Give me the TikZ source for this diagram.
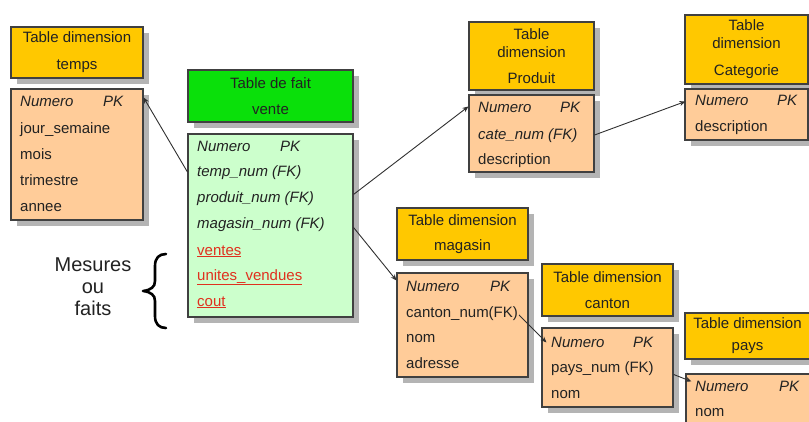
\documentclass[tikz,border=0pt]{standalone}
\usepackage{fontspec}
\setmainfont{Liberation Sans}
\usetikzlibrary{shadows,arrows.meta,calc}

\definecolor{hdrgold}{HTML}{FFC800}
\definecolor{peach}{HTML}{FFCC99}
\definecolor{factgreen}{HTML}{0AE00A}
\definecolor{factpale}{HTML}{CCFFCC}
\definecolor{edgegray}{HTML}{404040}
\definecolor{shadowgray}{HTML}{B4B4B4}
\definecolor{inkcol}{HTML}{222222}
\definecolor{measred}{HTML}{E0301E}
\definecolor{linkgray}{HTML}{303030}

\newcommand\cellfont{\fontsize{15}{27}\selectfont}
\newcommand\tightfont{\fontsize{15}{18}\selectfont}

\begin{document}
\begin{tikzpicture}[x=1pt,y=-1pt,
  box/.style={draw=edgegray, line width=1.1pt, rectangle, inner sep=0pt,
    drop shadow={shadow xshift=6pt, shadow yshift=-6pt, fill=shadowgray, opacity=1}},
  hdr/.style={box, fill=hdrgold, align=center, font=\cellfont, text=inkcol},
  facthdr/.style={hdr, fill=factgreen},
  dimbody/.style={box, fill=peach},
  factbody/.style={box, fill=factpale},
  row/.style={anchor=west, inner sep=0pt, text height=11pt, text depth=3pt,
    font=\cellfont, text=inkcol},
  key/.style={row, font=\cellfont\itshape},
  measure/.style={row, text=measred},
  link/.style={draw=linkgray, line width=0.9pt, -{Stealth[length=6pt,width=5pt]}},
  bracestroke/.style={draw=black, line width=2.6pt, line join=round, line cap=round}
]
\useasboundingbox (0,0) rectangle (809,421);

% ---- dimension temps
\node[hdr, minimum width=132pt, minimum height=51pt] (tHdr) at (77,52.5)
  {Table dimension\\temps};
\node[dimbody, minimum width=132pt, minimum height=131pt] (tBody) at (77,154.5) {};
\node[key] (tNum) at (20,102) {Numero};
\node[key] (tPK) at (103,102) {PK};
\node[row] (tJour) at (20,129) {jour\_semaine};
\node[row] (tMois) at (20,155) {mois};
\node[row] (tTrim) at (20,181) {trimestre};
\node[row] (tAnnee) at (20,207) {annee};

% ---- fact table vente
\node[facthdr, minimum width=165pt, minimum height=52pt,
  font=\fontsize{15}{26}\selectfont] (vHdr) at (270.5,96)
  {Table de fait\\vente};
\node[factbody, minimum width=165pt, minimum height=183pt] (vBody) at (270.5,225.5) {};
\node[key] (vNum) at (197,147) {Numero};
\node[key] (vPK) at (280,147) {PK};
\node[key] (vTemp) at (197,172) {temp\_num (FK)};
\node[key] (vProd) at (197,198) {produit\_num (FK)};
\node[key] (vMag) at (197,224) {magasin\_num (FK)};
\node[measure] (vVentes) at (197,251) {\underline{ventes}};
\node[measure] (vUnites) at (197,276) {\underline{unites\_vendues}};
\node[measure] (vCout) at (197,302) {\underline{cout}};

% ---- dimension produit
\node[hdr, minimum width=125pt, minimum height=68pt, font=\tightfont] (pHdr) at (531.5,56)
  {Table\\dimension\\[8pt]Produit};
\node[dimbody, minimum width=125pt, minimum height=77pt] (pBody) at (531.5,133.5) {};
\node[key] (pNum) at (478,108) {Numero};
\node[key] (pPK) at (560,108) {PK};
\node[key] (pCate) at (478,135) {cate\_num (FK)};
\node[row] (pDesc) at (478,160) {description};

% ---- dimension categorie
\node[hdr, minimum width=123pt, minimum height=69pt, font=\tightfont] (cHdr) at (746.5,49.5)
  {Table\\dimension\\[9pt]Categorie};
\node[dimbody, minimum width=123pt, minimum height=51pt] (cBody) at (746.5,114.5) {};
\node[key] (cNum) at (695,101) {Numero};
\node[key] (cPK) at (777,101) {PK};
\node[row] (cDesc) at (695,127) {description};

% ---- dimension magasin
\node[hdr, minimum width=131pt, minimum height=52pt,
  font=\fontsize{15}{25}\selectfont] (mHdr) at (462.5,234)
  {Table dimension\\magasin};
\node[dimbody, minimum width=131pt, minimum height=104pt] (mBody) at (462.5,325) {};
\node[key] (mNum) at (406,287) {Numero};
\node[key] (mPK) at (490,287) {PK};
\node[row] (mCanton) at (406,313) {canton\_num(FK)};
\node[row] (mNom) at (406,338) {nom};
\node[row] (mAdr) at (406,364) {adresse};

% ---- dimension canton
\node[hdr, minimum width=131pt, minimum height=52pt,
  font=\fontsize{15}{26}\selectfont] (kHdr) at (607.5,290)
  {Table dimension\\canton};
\node[dimbody, minimum width=131pt, minimum height=79pt] (kBody) at (607.5,367.5) {};
\node[key] (kNum) at (551,343) {Numero};
\node[key] (kPK) at (633,343) {PK};
\node[row] (kPays) at (551,368) {pays\_num (FK)};
\node[row] (kNom) at (551,394) {nom};

% ---- dimension pays
\node[hdr, minimum width=125pt, minimum height=46pt,
  font=\fontsize{15}{22}\selectfont] (yHdr) at (747.5,336)
  {Table dimension\\pays};
\node[dimbody, minimum width=124pt, minimum height=60pt] (yBody) at (748,404) {};
\node[key] (yNum) at (695,387) {Numero};
\node[key] (yPK) at (779,387) {PK};
\node[row] (yNom) at (695,412) {nom};

% ---- foreign key links
\draw[link] (vBody.west |- vTemp) -- ($(tBody.north east)+(0,9)$);
\draw[link] ($(vBody.north east)+(0,61)$) -- ($(pBody.north west)+(0,12)$);
\draw[link] ($(vBody.north east)+(0,94)$) -- ($(mBody.north west)+(0,8)$);
\draw[link] (pBody.east |- pCate) -- ($(cBody.north west)+(1,13)$);
\draw[link] ($(mCanton.east)+(1,2)$) -- ($(kBody.north west)+(5,15)$);
\draw[link] ($(kBody.north east)+(0,47)$) -- ($(yBody.north west)+(6,8)$);

% ---- measures brace
\node[font=\fontsize{20}{22}\selectfont, align=center, text=inkcol] (mesures) at (93,287)
  {Mesures\\ou\\faits};
\draw[bracestroke] (166,254) .. controls (159,254) and (155,258) .. (155,266)
  -- (155,281) .. controls (155,287) and (151,290) .. (143,291)
  .. controls (151,292) and (155,295) .. (155,301)
  -- (155,316) .. controls (155,324) and (159,328) .. (166,328);
\end{tikzpicture}
\end{document}
